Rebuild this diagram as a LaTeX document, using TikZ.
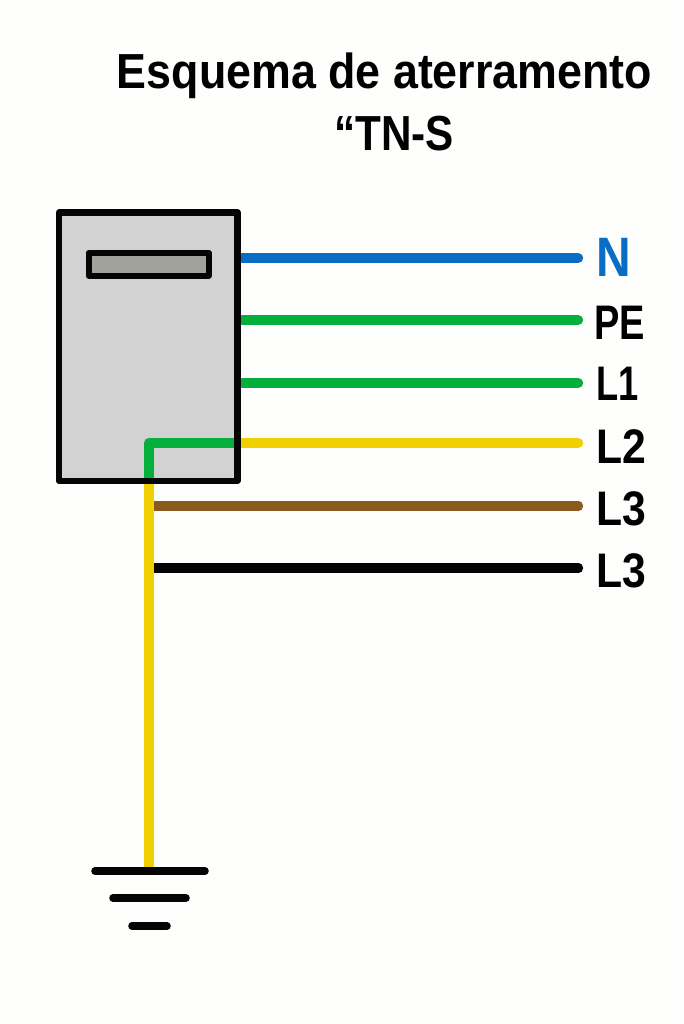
\documentclass[tikz,border=0pt]{standalone}
\usepackage{fontspec}
\setmainfont{Liberation Sans}
\definecolor{paper}{HTML}{FEFEFC}
\definecolor{wireblue}{HTML}{0A6CC4}
\definecolor{wiregreen}{HTML}{05AF3C}
\definecolor{wireyellow}{HTML}{F2CF00}
\definecolor{wirebrown}{HTML}{8A5A1E}
\definecolor{wireblack}{HTML}{050505}
\definecolor{boxgray}{HTML}{D2D2D2}
\definecolor{slotgray}{HTML}{A2A29C}
\tikzset{
  wire/.style={line width=7.4pt},
  wireend/.style={wire,line cap=round},
  earthbar/.style={line width=5.4pt,line cap=round,wireblack},
  meterfill/.style={fill=boxgray,inner sep=0pt,outer sep=0pt,minimum width=4.46cm,minimum height=6.71cm},
  meterline/.style={draw=wireblack,line width=4.3pt,line join=round,inner sep=0pt,outer sep=0pt,minimum width=4.46cm,minimum height=6.71cm},
  slotbox/.style={draw=wireblack,fill=slotgray,line width=4.3pt,line join=round,inner sep=0pt,minimum width=3cm,minimum height=0.57cm},
  wirelabel/.style={anchor=west,inner sep=0pt,font=\fontsize{34.5}{40}\selectfont\bfseries,xscale=0.88,transform shape},
  titletext/.style={inner sep=0pt,font=\fontsize{35}{40}\selectfont\bfseries,transform shape},
}
\begin{document}
\begin{tikzpicture}[x=0.025cm,y=-0.025cm]
    \useasboundingbox (0,0) rectangle (683,1024);
    \fill [paper] (0,0) rectangle (683,1024);
    % title
    \node [titletext,xscale=0.91] (titleA) at (384.5,76) {Esquema de aterramento};
    \node [titletext,xscale=0.858] (titleB) at (394,134) {“TN-S};
    % meter box
    \node [meterfill] (meter) at (148.25,346.75) {};
    % coordinates on the wires
    \coordinate (nA) at (242,258);
    \coordinate (nB) at (578,258);
    \coordinate (peA) at (242,320);
    \coordinate (peB) at (578,320);
    \coordinate (oneA) at (242,383);
    \coordinate (oneB) at (578,383);
    \coordinate (twoA) at (242,443);
    \coordinate (twoB) at (578,443);
    \coordinate (threeA) at (154,506);
    \coordinate (threeB) at (578,506);
    \coordinate (fourA) at (154,568);
    \coordinate (fourB) at (578,568);
    \coordinate (greenA) at (237,443);
    \coordinate (elbow) at (149,443);
    \coordinate (meterout) at (149,481);
    \coordinate (earthtop) at (149,868);
    % wires
    \draw [wireend,wireblue] (nA) -- (nB);
    \draw [wireend,wiregreen] (peA) -- (peB);
    \draw [wireend,wiregreen] (oneA) -- (oneB);
    \draw [wireend,wireyellow] (twoA) -- (twoB);
    \draw [wire,wireyellow] (meterout) -- (earthtop);
    \draw [wire,wirebrown] (threeA) -- (threeB);
    \fill [wirebrown] (threeB) circle (5.2);
    \draw [wire,wireblack] (fourA) -- (fourB);
    \fill [wireblack] (fourB) circle (5.2);
    \draw [wire,wiregreen,line join=round] (greenA) -- (elbow) -- (meterout);
    % box outline goes over the wires
    \node [meterline] (meteredge) at (meter) {};
    \node [slotbox] (slot) at (148.6,264.3) {};
    % earth symbol
    \draw [earthbar] (95,871) -- (205,871);
    \draw [earthbar] (113,898) -- (186,898);
    \draw [earthbar] (132,926) -- (167,926);
    % labels
    \node [wirelabel,text=wireblue,xscale=0.98,font=\fontsize{39.5}{44}\selectfont\bfseries] (lblN) at (596,257) {N};
    \node [wirelabel,xscale=0.89] (lblPE) at (594,323) {PE};
    \node [wirelabel,xscale=0.85] (lblOne) at (596,384) {L1};
    \node [wirelabel] (lblTwo) at (596,447) {L2};
    \node [wirelabel] (lblThree) at (596,509) {L3};
    \node [wirelabel] (lblFour) at (596,571) {L3};
\end{tikzpicture}
\end{document}
